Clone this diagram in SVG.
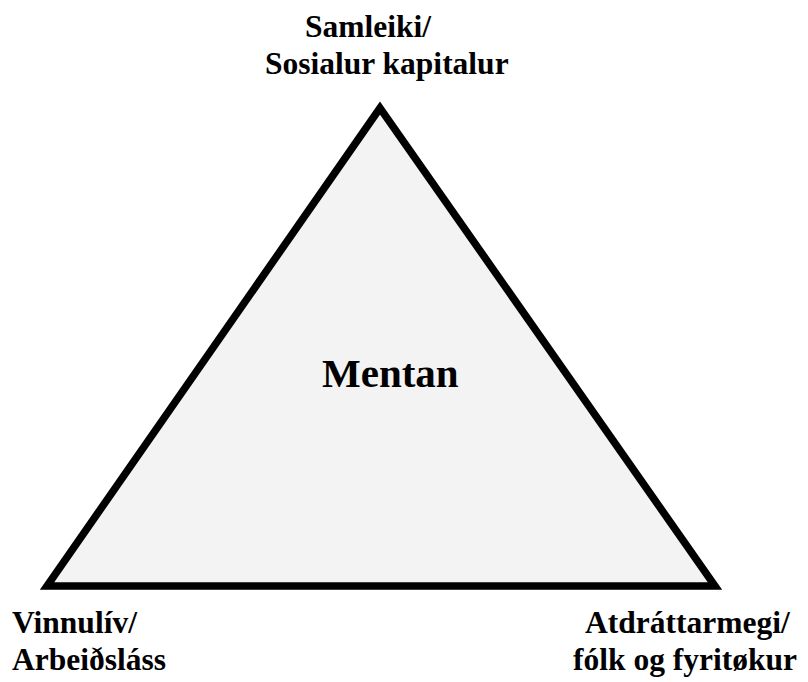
<svg xmlns="http://www.w3.org/2000/svg" width="808" height="682" viewBox="0 0 808 682">
  <style>
    .lbl { font-family: "Liberation Serif", "Times New Roman", serif; font-weight: bold; font-size: 31.5px; fill: #000; }
    .center { font-family: "Liberation Serif", "Times New Roman", serif; font-weight: bold; font-size: 41px; fill: #000; }
    .tri { fill: #f3f3f3; stroke: #000; stroke-width: 7.5; stroke-linejoin: miter; stroke-miterlimit: 10; }
  </style>
  <rect width="808" height="682" fill="#ffffff"/>
  <g id="connectors">
    <polygon class="tri" points="380,108 47,586 715,586"/>
  </g>
  <g id="node-mentan">
    <text class="center" x="322" y="387">Mentan</text>
  </g>
  <g id="node-samleiki">
    <text class="lbl" x="305" y="37">Samleiki/</text>
    <text class="lbl" x="265" y="74">Sosialur kapitalur</text>
  </g>
  <g id="node-vinnuliv">
    <text class="lbl" x="12" y="633">Vinnulív/</text>
    <text class="lbl" x="12" y="670">Arbeiðsláss</text>
  </g>
  <g id="node-atdrattarmegi">
    <text class="lbl" x="585" y="633">Atdráttarmegi/</text>
    <text class="lbl" x="573" y="670">fólk og fyritøkur</text>
  </g>
</svg>
